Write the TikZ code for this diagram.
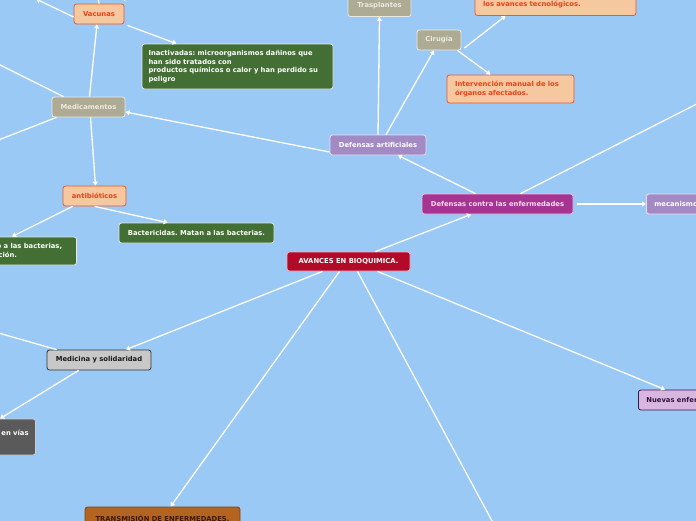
\documentclass[tikz,border=0pt]{standalone}
\usepackage{fontspec}
\setmainfont{DejaVu Sans}
\usetikzlibrary{arrows.meta}
\frenchspacing
\definecolor{bg}{RGB}{154,201,245}
\definecolor{peach}{RGB}{245,200,160}
\definecolor{peachline}{RGB}{232,88,50}
\definecolor{peachtext}{RGB}{235,64,24}
\definecolor{dgreen}{RGB}{67,110,52}
\definecolor{khaki}{RGB}{173,171,147}
\definecolor{khakitext}{RGB}{236,235,226}
\definecolor{lpurple}{RGB}{164,138,196}
\definecolor{magen}{RGB}{165,52,146}
\definecolor{magtext}{RGB}{248,220,240}
\definecolor{crimson}{RGB}{180,10,42}
\definecolor{lgray}{RGB}{200,200,200}
\definecolor{dgray}{RGB}{90,90,90}
\definecolor{brown}{RGB}{180,100,30}
\definecolor{browntext}{RGB}{60,25,5}
\definecolor{lilac}{RGB}{216,182,224}
\definecolor{lilacline}{RGB}{60,25,75}
\definecolor{lilactext}{RGB}{50,20,60}
\tikzset{
  x=1pt, y=-1pt,
  box/.style={rectangle, rounded corners=2.5pt, line width=0.8pt, font=\fontsize{6.8}{8.5}\selectfont\bfseries\frenchspacing, inner sep=0pt, align=center},
  peachbox/.style={box, fill=peach, draw=peachline, text=peachtext},
  greenbox/.style={box, fill=dgreen, draw=white!85!dgreen, text=white},
  khakibox/.style={box, fill=khaki, draw=white!75!khaki, text=khakitext},
  purplebox/.style={box, fill=lpurple, draw=white!75!lpurple, text=white},
  conn/.style={draw=white, line width=1.3pt},
  arr/.style={conn, -{Triangle[width=5pt,length=4pt]}},
}
\begin{document}
\begin{tikzpicture}
\useasboundingbox (0,0) rectangle (696,520);
\clip (0,0) rectangle (696,520);
\fill[bg] (-20,-20) rectangle (720,540);

% nodes
\node[peachbox, minimum width=50pt, minimum height=20pt] (vac) at (99,14) {Vacunas};
\node[greenbox, minimum width=191pt, minimum height=45pt, text width=178pt, align=left] (inact) at (237.5,66.5) {Inactivadas: microorganismos dañinos que\\han sido tratados con\\productos químicos o calor y han perdido su\\peligro};
\node[khakibox, minimum width=73pt, minimum height=20pt] (med) at (88.5,107) {Medicamentos};
\node[khakibox, minimum width=63pt, minimum height=22pt] (tras) at (379.5,5.5) {Trasplantes};
\node[khakibox, minimum width=44pt, minimum height=20pt] (cir) at (439,40) {Cirugía};
\node[peachbox, minimum width=161pt, minimum height=30pt, text width=145pt, align=left] (tecn) at (555.5,0.5) {Cada vez más eficaz debido a\\los avances tecnológicos.};
\node[peachbox, minimum width=127pt, minimum height=28pt, text width=111pt, align=left] (interv) at (510.5,89) {Intervención manual de los\\órganos afectados.};
\node[purplebox, minimum width=96pt, minimum height=20pt] (defart) at (378,145) {Defensas artificiales};
\node[peachbox, minimum width=63pt, minimum height=20pt] (antib) at (94.5,196) {antibióticos};
\node[greenbox, minimum width=155pt, minimum height=20pt] (bact) at (196.5,233) {Bactericidas. Matan a las bacterias.};
\node[greenbox, minimum height=28pt, inner xsep=7.5pt, align=left, anchor=east] (bstat) at (77,251) {Bacteriostáticos: detienen el crecimiento a las bacterias,\hspace*{7pt}\\impiden así su multiplicación y reproducción.};
\node[box, fill=lgray, draw=black!80, text=black!90, minimum width=104pt, minimum height=20pt] (medsol) at (99,360) {Medicina y solidaridad};
\node[box, fill=dgray, draw=white!70!dgray, text=white, minimum height=36pt, inner xsep=7pt, align=left, anchor=east] (gray) at (36,437) {Ayuda humanitaria a los países en vías\\de desarrollo.};
\node[box, fill=brown, draw=brown!70!black, text=browntext, minimum width=155pt, minimum height=22pt] (trans) at (162.5,518) {TRANSMISIÓN DE ENFERMEDADES.};
\node[box, fill=crimson, draw=white!70!crimson, text=white, minimum width=123pt, minimum height=19pt] (avan) at (348.5,261.5) {AVANCES EN BIOQUIMICA.};
\node[box, fill=magen, draw=white!70!magen, text=magtext, minimum width=151pt, minimum height=20pt] (defcon) at (497.5,204) {Defensas contra las enfermedades};
\node[purplebox, minimum height=20pt, inner xsep=8pt, anchor=west] (mec) at (646,204) {mecanismos de defensa naturales};
\node[box, fill=lilac, draw=lilacline, text=lilactext, minimum height=20pt, inner xsep=8pt, anchor=west] (nuev) at (638,400) {Nuevas enfermedades};

% off-screen ends
\coordinate (offA) at (-40,45);
\coordinate (offB) at (-40,155);
\coordinate (offC) at (36,-1);
\coordinate (offD) at (140,-20);
\coordinate (offE) at (95,-20);
\coordinate (offF) at (-40,322);
\coordinate (offG) at (505,545);
\coordinate (offH) at (740,82);

% connectors
\draw[arr] ([xshift=-35pt]avan.north east) -- ([xshift=-26.5pt]defcon.south);
\draw[arr] ([xshift=-26pt]avan.south) -- ([xshift=27pt]medsol.north);
\draw[arr] ([xshift=-9pt]avan.south) -- ([xshift=8pt]trans.north);
\draw[conn] ([xshift=9pt]avan.south) -- (offG);
\draw[arr] ([xshift=29pt]avan.south) -- ([xshift=27pt]nuev.north west);
\draw[arr] ([xshift=-22pt]defcon.north) -- ([xshift=20pt]defart.south);
\draw[arr] ([xshift=4pt]defcon.east) -- (mec.west);
\draw[conn] ([xshift=23pt]defcon.north) -- (offH);
\draw[arr] ([yshift=-7pt]defart.west) -- ([yshift=-5pt]med.east);
\draw[arr] (defart.north) -- (tras.south);
\draw[arr] ([xshift=8pt]defart.north) -- ([xshift=-5pt]cir.south);
\draw[arr] ([shift={(3pt,-8pt)}]cir.east) -- ([xshift=-50pt]tecn.south);
\draw[arr] ([xshift=-4pt]cir.south east) -- ([xshift=-20pt]interv.north);
\draw[arr] ([xshift=1pt]med.north) -- ([xshift=-2pt]vac.south);
\draw[arr] ([xshift=2pt]med.south) -- ([xshift=1pt]antib.north);
\draw[conn] ([xshift=-25pt]med.north) -- (offA);
\draw[conn] ([xshift=-32pt]med.south) -- (offB);
\draw[arr] ([yshift=-3pt]vac.west) -- (offC);
\draw[conn] ([yshift=3pt]vac.north east) -- (offD);
\draw[conn] (vac.north) -- (offE);
\draw[arr] ([shift={(3pt,-1pt)}]vac.south east) -- ([xshift=-61pt]inact.north);
\draw[arr] ([xshift=32pt]antib.south west) -- ([xshift=49pt]bact.north west);
\draw[arr] ([xshift=10pt]antib.south west) -- ([xshift=-65pt]bstat.north east);
\draw[arr] ([xshift=32pt]medsol.south west) -- ([xshift=-36pt]gray.north east);
\draw[conn] ([xshift=10pt]medsol.north west) -- (offF);
\end{tikzpicture}
\end{document}
